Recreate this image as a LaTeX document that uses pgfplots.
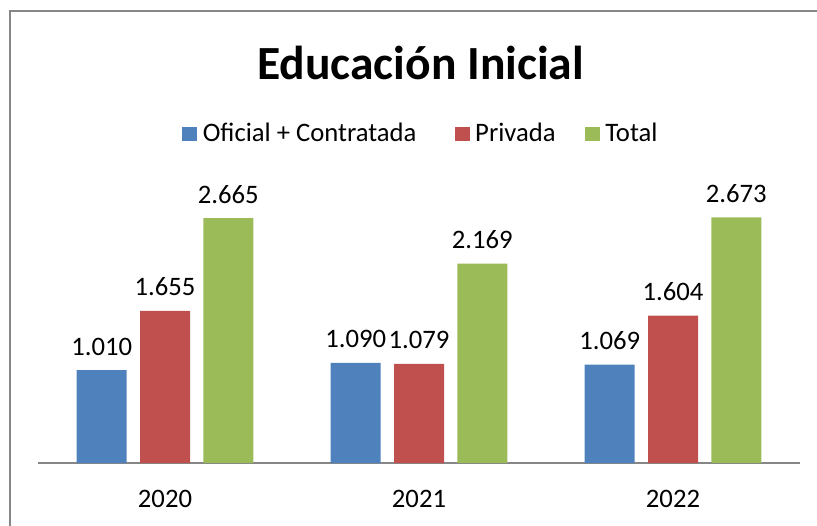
\documentclass[border=0pt]{standalone}
\usepackage{pgfplots}
\pgfplotsset{compat=1.18}
\usepackage{fontspec}
\setmainfont{Carlito}
\definecolor{cblue}{HTML}{4F81BD}
\definecolor{cred}{HTML}{C0504D}
\definecolor{cgreen}{HTML}{9BBB59}
\definecolor{cgray}{HTML}{868686}
\begin{document}
\begin{tikzpicture}
\useasboundingbox (0pt,0pt) rectangle (612.75pt,393.75pt);
\draw[cgray, line width=1.6pt] (7.6pt,-5pt) -- (7.6pt,385.3pt) -- (620pt,385.3pt);
\node[anchor=base, font=\fontsize{35.7}{40}\selectfont\bfseries] at (315.4pt,333.75pt) {Educación Inicial};
\begin{axis}[
  at={(28.5pt,46.5pt)}, anchor=south west,
  scale only axis, width=571.5pt, height=206.8pt,
  xmin=-0.5, xmax=2.5, ymin=0, ymax=3000,
  axis x line=bottom, axis y line=none,
  x axis line style={cgray, line width=1.3pt, -},
  xtick={0,1,2}, xticklabels={2020,2021,2022},
  major tick length=0pt,
  xticklabel style={anchor=base, yshift=-33pt, font=\fontsize{20}{24}\selectfont},
  ytick=\empty,
  ybar=10pt, bar width=37.5pt,
  /pgf/number format/assume math mode=true,
  /pgf/number format/1000 sep={.},
  nodes near coords,
  every node near coord/.append style={anchor=base, yshift=11.25pt, inner sep=0pt, font=\fontsize{20}{24}\selectfont, text=black},
  legend columns=3,
  legend style={at={(rel axis cs:0.503,1.196)}, anchor=center, draw=none, fill=none,
    font=\fontsize{20}{24}\selectfont,
    /tikz/column 2/.style={column sep=26.75pt},
    /tikz/column 4/.style={column sep=20pt}},
  legend image code/.code={\fill[#1] (0pt,-6pt) rectangle (11pt,5pt); \path (13.25pt,0pt);},
  clip=false,
]
\addplot[fill=cblue, draw=none] coordinates {(0,1010) (1,1090) (2,1069)};
\addplot[fill=cred, draw=none] coordinates {(0,1655) (1,1079) (2,1604)};
\addplot[fill=cgreen, draw=none] coordinates {(0,2665) (1,2169) (2,2673)};
\legend{Oficial + Contratada, Privada, Total}
\end{axis}
\end{tikzpicture}
\end{document}
